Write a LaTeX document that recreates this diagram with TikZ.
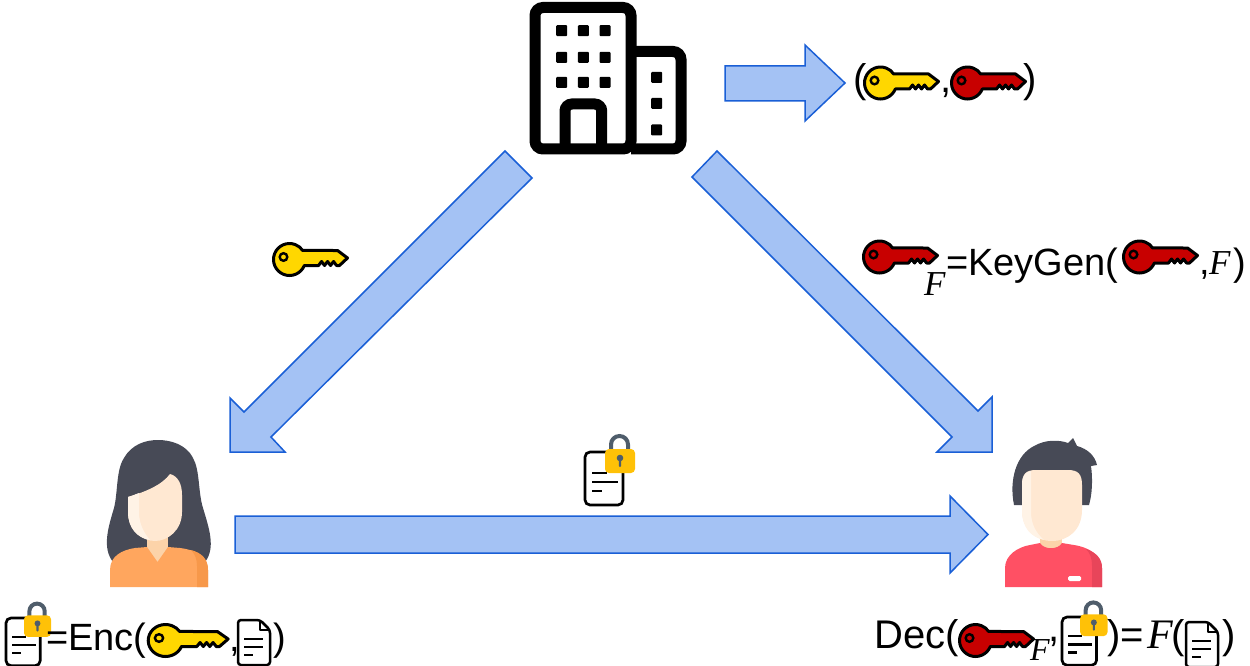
\documentclass[tikz,border=0pt]{standalone}
\usepackage{fontspec}
\setmainfont{Liberation Sans}
\newfontfamily\tms{Liberation Serif}

\definecolor{arrowfill}{HTML}{A4C2F4}
\definecolor{arrowline}{HTML}{1A5FD6}
\definecolor{keyyellow}{HTML}{FFD700}
\definecolor{keyred}{HTML}{C80000}
\definecolor{lockgold}{HTML}{FFC107}
\definecolor{lockgray}{HTML}{4F5D6B}
\definecolor{haircol}{HTML}{474A56}
\definecolor{skin}{HTML}{FFE8D2}
\definecolor{skinlight}{HTML}{FFF3E6}
\definecolor{neckcol}{HTML}{FCD3A9}
\definecolor{wshirt}{HTML}{FFA65E}
\definecolor{wshirtdark}{HTML}{F7984A}
\definecolor{mshirt}{HTML}{FF5064}
\definecolor{mshirtdark}{HTML}{E8455A}

\tikzset{
  blockarrow/.style={fill=arrowfill, draw=arrowline, line width=1.5pt, line join=miter},
  lbl/.style={inner sep=0pt, anchor=base west, font=\fontsize{38}{40}\selectfont},
  lblbig/.style={inner sep=0pt, anchor=base west, font=\fontsize{40}{42}\selectfont},
  fit/.style={inner sep=0pt, anchor=base west, font=\fontsize{35}{37}\selectfont\tms\itshape},
  % key: origin at the centre of the bow
  pics/key/.style={code={
    \filldraw[fill=#1, draw=black, line width=3pt, line join=round]
      (14.83,6) arc[start angle=22.0, end angle=325.7, radius=16]
      -- (48,-9) -- (58,-1.5) -- (50,6) -- (47,6) -- (44,2) -- (41,6)
      -- (38,2) -- (35,6) -- (32,2) -- (29,6) -- cycle;
    \filldraw[fill=#1, draw=black, line width=2.4pt] (-6,-2.5) circle[radius=3.8];
  }},
  % lined sheet with a padlock: origin at the sheet's top left corner
  pics/lockdoc/.style={code={
    \draw[line width=2.7pt, rounded corners=5pt] (0,0) rectangle (38,53);
    \draw[line width=2.7pt] (7,21) -- (22,21) (7,30) -- (33,30) (7,39) -- (17,39);
    \draw[lockgray, line width=4pt] (26,-2) -- (26,-7.5)
      arc[start angle=180, end angle=360, radius=8.5] -- (43,-2);
    \fill[lockgold, rounded corners=4pt] (20,-3) rectangle (50,21);
    \fill[lockgray] (35,6) circle[radius=3.3];
    \fill[lockgray, rounded corners=1pt] (33.8,6) rectangle (36.2,15);
  }},
  % plain page with a folded corner: origin at the top left corner
  pics/page/.style={code={
    \draw[line width=2.5pt, line join=round, rounded corners=3pt]
      (22,0) -- (0,0) -- (0,45) -- (32,45) -- (32,10) -- cycle;
    \draw[line width=2pt, line join=round] (22,0) -- (22,10) -- (32,10);
    \draw[line width=2.2pt] (6,19) -- (25,19) (6,27) -- (25,27) (6,35) -- (15,35);
  }}
}

\begin{document}
\begin{tikzpicture}[x=1pt, y=-1pt]
\useasboundingbox (0,0) rectangle (1250,666);

% ---------- authority (office building) ----------
\coordinate (authority) at (608,80);
\draw[line width=11pt, rounded corners=8pt] (535,7.5) rectangle (631,149);
\draw[line width=11pt, rounded corners=8pt] (631,51.5) -- (681,51.5) -- (681,149) -- (631,149);
\draw[line width=11pt, rounded corners=7pt] (565,149) -- (565,104) -- (601.7,104) -- (601.7,149);
\foreach \wx in {561.7,583.3,605}
  \foreach \wy in {30.7,57.3,82.3}
    \fill[rounded corners=1pt] (\wx-5.5,\wy-5.5) rectangle ++(11,11);
\foreach \wy in {77.3,103.3,130}
  \fill[rounded corners=1pt] (656.7-5.5,\wy-5.5) rectangle ++(11,11);

% ---------- block arrows ----------
\draw[blockarrow] (725,66) -- (805,66) -- (805,45) -- (845,83) -- (805,121) -- (805,101) -- (725,101) -- cycle;
\draw[blockarrow] (505,151) -- (532,178) -- (271,437) -- (285,452) -- (230,452) -- (230,398) -- (244,412) -- cycle;
\draw[blockarrow] (717,151) -- (978,411) -- (992,397) -- (992,452) -- (937,452) -- (952,437) -- (692,177) -- cycle;
\draw[blockarrow] (235,516) -- (950,516) -- (950,496) -- (988,534.5) -- (950,573) -- (950,553) -- (235,553) -- cycle;

% ---------- key pair ----------
\node[lblbig] (kpl) at (853,93) {(};
\pic at (880.5,83) {key=keyyellow};
\node[lblbig] (kpc) at (940,93) {,};
\pic at (967.5,83) {key=keyred};
\node[lblbig] (kpr) at (1023,93) {)};

% ---------- public key on the left arrow ----------
\pic at (289.5,259.5) {key=keyyellow};

% ---------- functional key ----------
\pic at (879.5,257) {key=keyred};
\node[fit] (kfsub) at (924,295) {F};
\node[lbl] (keygen) at (946,275) {=KeyGen(};
\pic at (1139.5,257) {key=keyred};
\node[lbl] (kgc) at (1199,274) {,};
\node[fit] (kgf) at (1209,274) {F};
\node[lbl] (kgr) at (1233,275) {)};

% ---------- ciphertext in transit ----------
\pic at (585,452) {lockdoc};

% ---------- encryptor (woman) ----------
\coordinate (alice) at (158,515);
\fill[haircol] (113,562) .. controls (102,548) and (108,528) .. (114,508)
  .. controls (118,492) and (116,470) .. (124,458)
  .. controls (132,444) and (146,440) .. (158,440)
  .. controls (170,440) and (186,444) .. (193,458)
  .. controls (200,470) and (198,492) .. (203,508)
  .. controls (209,528) and (216,548) .. (205,562) -- cycle;
\fill[neckcol] (147,525) rectangle (168,566);
\fill[skin] (128,497) .. controls (145,492) and (162,485) .. (170,474)
  .. controls (178,476) and (182,484) .. (182,495) -- (182,512)
  .. controls (182,530) and (168,541) .. (155,541)
  .. controls (142,541) and (128,530) .. (128,512) -- cycle;
\fill[skinlight] (128,497) .. controls (132,496) and (136,494) .. (139,493)
  -- (139,512) .. controls (139,524) and (144,533) .. (150,540)
  .. controls (137,538) and (128,528) .. (128,512) -- cycle;
\fill[wshirt] (110,587) -- (110,570) .. controls (110,556) and (122,550) .. (135,548)
  -- (147,547) -- (157.5,562) -- (168,547) -- (180,548)
  .. controls (196,550) and (208,556) .. (208,570) -- (208,587) -- cycle;
\fill[wshirtdark] (191,550) .. controls (202,553) and (208,559) .. (208,570)
  -- (208,587) -- (197,587) -- (197,566) .. controls (197,559) and (195,554) .. (191,550) -- cycle;

% ---------- decryptor (man) ----------
\coordinate (bob) at (1052,515);
\fill[haircol] (1014,505) .. controls (1009,480) and (1016,455) .. (1034,446)
  .. controls (1046,439) and (1060,440) .. (1068,443) -- (1073,438) -- (1077,446)
  .. controls (1088,449) and (1095,456) .. (1097,465) -- (1091,466)
  .. controls (1093,480) and (1092,495) .. (1089,505) -- cycle;
\fill[neckcol] (1040,525) rectangle (1062,550);
\fill[skin] (1022,485) .. controls (1022,474) and (1026,470) .. (1036,470) -- (1068,470)
  .. controls (1078,470) and (1082,474) .. (1082,485) -- (1082,510)
  .. controls (1082,530) and (1068,541) .. (1052,541)
  .. controls (1036,541) and (1022,530) .. (1022,510) -- cycle;
\fill[skinlight] (1022,485) .. controls (1022,476) and (1025,472) .. (1031,471)
  -- (1031,512) .. controls (1031,524) and (1036,533) .. (1044,540)
  .. controls (1031,537) and (1022,528) .. (1022,510) -- cycle;
\fill[mshirt] (1005,587) -- (1005,568) .. controls (1005,555) and (1018,547) .. (1030,545)
  -- (1040,543) .. controls (1044,550) and (1058,550) .. (1062,543) -- (1074,545)
  .. controls (1088,547) and (1102,555) .. (1102,568) -- (1102,587) -- cycle;
\fill[mshirtdark] (1086,549) .. controls (1097,553) and (1102,559) .. (1102,568)
  -- (1102,587) -- (1092,587) -- (1092,566) .. controls (1092,558) and (1090,553) .. (1086,549) -- cycle;
\fill[white, rounded corners=1.5pt] (1068,576) rectangle (1081,581);

% ---------- encryption ----------
\pic[scale=0.9] at (6,618) {lockdoc};
\node[lbl] (enc) at (46,650) {=Enc(};
\pic[xscale=1.08] at (165.5,640.5) {key=keyyellow};
\node[lbl] (encc) at (229,651) {,};
\pic at (238,620) {page};
\node[lbl] (encr) at (273,650) {)};

% ---------- decryption ----------
\node[lblbig] (dec) at (874,648) {Dec(};
\pic at (975.5,640.5) {key=keyred};
\node[fit, font=\fontsize{32}{34}\selectfont\tms\itshape] (decsub) at (1030,660) {F};
\node[lblbig] (decc) at (1048,641) {,};
\pic[scale=0.91] at (1062,617) {lockdoc};
\node[lblbig] (deceq) at (1107,648) {)=};
\node[fit, font=\fontsize{42}{44}\selectfont\tms\itshape] (decf) at (1147,648) {F};
\node[lblbig] (decl) at (1171,648) {(};
\pic at (1186,622) {page};
\node[lblbig] (decr) at (1222,648) {)};
\end{tikzpicture}
\end{document}
